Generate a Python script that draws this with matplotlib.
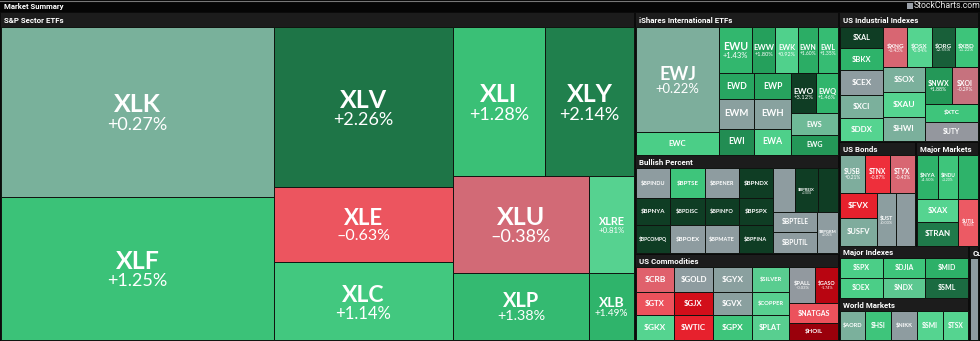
import matplotlib.pyplot as plt
import matplotlib.patches as patches
import numpy as np
from matplotlib.colors import to_rgb

# ---- data: tickers, % change, and nested size weights per panel ----
sp_tickers = ['XLK', 'XLF', 'XLV', 'XLE', 'XLC', 'XLI', 'XLY', 'XLU', 'XLRE', 'XLP', 'XLB']
sp_change = [0.27, 1.25, 2.26, -0.63, 1.14, 1.28, 2.14, -0.38, 0.81, 1.38, 1.49]
sp_sizes = ('h', [(273, ('v', [(170, 'XLK'), (143, 'XLF')])),
                  (179, ('v', [(160, 'XLV'), (75, 'XLE'), (78, 'XLC')])),
                  (181, ('v', [(149, ('h', [(92, 'XLI'), (89, 'XLY')])),
                               (164, ('h', [(136, ('v', [(97, 'XLU'), (67, 'XLP')])),
                                            (45, ('v', [(97, 'XLRE'), (67, 'XLB')]))]))]))])

intl_tickers = ['EWJ', 'EWC', 'EWU', 'EWW', 'EWK', 'EWN', 'EWL', 'EWD', 'EWP', 'EWM',
                'EWH', 'EWI', 'EWA', 'EWO', 'EWQ', 'EWS', 'EWG']
intl_change = [0.22, 1.0, 1.43, 1.80, 0.92, 1.60, 1.35, 1.70, 1.75, 0.05,
               0.08, 2.0, 0.95, 3.12, 1.46, 0.40, 1.90]
intl_sizes = ('h', [(83, ('v', [(105, 'EWJ'), (23, 'EWC')])),
                    (119, ('v', [(46, ('h', [(33, 'EWU'), (23, 'EWW'), (22, 'EWK'), (20, 'EWN'), (20, 'EWL')])),
                                 (82, ('h', [(72, ('v', [(26, ('h', [(35, 'EWD'), (37, 'EWP')])),
                                                         (29, ('h', [(35, 'EWM'), (37, 'EWH')])),
                                                         (26, ('h', [(35, 'EWI'), (37, 'EWA')]))])),
                                             (47, ('v', [(40, ('h', [(25, 'EWO'), (22, 'EWQ')])),
                                                         (21, 'EWS'), (20, 'EWG')]))]))]))])

ind_tickers = ['$XAL', '$BKX', '$CEX', '$XCI', '$DDX', '$XNG', '$OSX', '$ORG', '$XBD',
               '$SOX', '$XAU', '$HWI', '$NWX', '$XOI', '$XTC', '$UTY']
ind_change = [3.0, 1.5, 0.0, 0.25, 0.85, -0.43, 0.84, 2.55, 1.22,
              0.25, 0.85, 0.25, 1.88, -0.29, 1.2, -0.05]
ind_sizes = ('h', [(43, ('v', [(21, '$XAL'), (22, '$BKX'), (24, '$CEX'), (23, '$XCI'), (23, '$DDX')])),
                   (94, ('v', [(40, ('h', [(24, '$XNG'), (24, '$OSX'), (23, '$ORG'), (23, '$XBD')])),
                               (73, ('h', [(41, ('v', [(24, '$SOX'), (25, '$XAU'), (24, '$HWI')])),
                                           (53, ('v', [(36, ('h', [(27, '$NWX'), (26, '$XOI')])),
                                                       (18, '$XTC'), (19, '$UTY')]))]))]))])

bp_tickers = ['$BPINDU', '$BPTSE', '$BPENER', '$BPNDX', '$BPNYA', '$BPDISC', '$BPINFO', '$BPSPX',
              '$BPCOMPQ', '$BPOEX', '$BPMATE', '$BPFINA', '_a', '$BPREIX', '_b',
              '$BPTELE', '$BPUTIL', '$BPGRM']
bp_change = [0.0, 1.2, 0.0, 3.0, 3.0, 3.0, 3.0, 3.0,
             3.0, 0.0, 0.0, 3.0, 0.0, 3.0, 3.0,
             0.0, 0.0, 0.0]
bp_sizes = ('h', [(137, ('v', [(30, ('h', [(1, '$BPINDU'), (1, '$BPTSE'), (1, '$BPENER'), (1, '$BPNDX')])),
                               (27, ('h', [(1, '$BPNYA'), (1, '$BPDISC'), (1, '$BPINFO'), (1, '$BPSPX')])),
                               (28, ('h', [(1, '$BPCOMPQ'), (1, '$BPOEX'), (1, '$BPMATE'), (1, '$BPFINA')]))])),
                  (65, ('v', [(44, ('h', [(22, '_a'), (23, '$BPREIX'), (20, '_b')])),
                              (41, ('h', [(44, ('v', [(20, '$BPTELE'), (21, '$BPUTIL')])), (21, '$BPGRM')]))]))])

bond_tickers = ['$USB', '$TNX', '$TYX', '$FVX', '$USFV', '$UST', '_c']
bond_change = [0.21, -0.87, -0.43, -1.0, 0.2, 0.03, 0.0]
bond_sizes = ('v', [(38, ('h', [(25, '$USB'), (25, '$TNX'), (25, '$TYX')])),
                    (53, ('h', [(37, ('v', [(25, '$FVX'), (28, '$USFV')])), (19, '$UST'), (19, '_c')]))])

mkt_tickers = ['$NYA', '$INDU', '_d', '$XAX', '$TRAN', '$UTIL']
mkt_change = [1.5, 1.2, 1.5, 0.85, 2.2, -0.6]
mkt_sizes = ('v', [(44, ('h', [(21, '$NYA'), (20, '$INDU'), (20, '_d')])),
                   (47, ('h', [(41, ('v', [(23, '$XAX'), (24, '$TRAN')])), (20, '$UTIL')]))])

cmd_tickers = ['$CRB', '$GTX', '$GKX', '$GOLD', '$GJX', '$WTIC', '$GYX', '$GVX', '$GPX',
               '$SILVER', '$COPPER', '$PLAT', '$PALL', '$GASO', '$NATGAS', '$HOIL']
cmd_change = [-0.5, -0.65, 0.85, 0.0, -1.3, -1.0, 0.05, 0.05, 1.2,
              0.7, 0.75, 0.75, -0.03, -1.74, -0.65, -2.3]
cmd_sizes = ('h', [(38, ('v', [(25, '$CRB'), (23, '$GTX'), (25, '$GKX')])),
                   (39, ('v', [(25, '$GOLD'), (23, '$GJX'), (25, '$WTIC')])),
                   (39, ('v', [(25, '$GYX'), (23, '$GVX'), (25, '$GPX')])),
                   (37, ('v', [(25, '$SILVER'), (23, '$COPPER'), (25, '$PLAT')])),
                   (49, ('v', [(36, ('h', [(26, '$PALL'), (23, '$GASO')])), (20, '$NATGAS'), (17, '$HOIL')]))])

idx_tickers = ['$SPX', '$DJIA', '$MID', '$OEX', '$NDX', '$SML']
idx_change = [1.0, 1.2, 1.55, 1.0, 0.6, 2.4]
idx_sizes = ('v', [(1, ('h', [(1, '$SPX'), (1, '$DJIA'), (1, '$MID')])),
                   (1, ('h', [(1, '$OEX'), (1, '$NDX'), (1, '$SML')]))])

world_tickers = ['$AORD', '$HSI', '$NIKK', '$SMI', '$TSX']
world_change = [0.25, 1.2, 0.0, 0.85, 0.85]
world_sizes = ('h', [(25, '$AORD'), (26, '$HSI'), (25, '$NIKK'), (26, '$SMI'), (25, '$TSX')])

cur_tickers = ['_e']
cur_change = [0.0]
cur_sizes = ('v', [(1, '_e')])

# panel frames in pixels: title, x0, header top, tiles top, x1, y1, max font
panels = [
    ('S&P Sector ETFs', 1, 13, 27, 634, 340, 18, sp_tickers, sp_change, sp_sizes),
    ('iShares International ETFs', 636, 13, 27, 838, 155, 13, intl_tickers, intl_change, intl_sizes),
    ('US Industrial Indexes', 840, 13, 27, 978, 141, 13, ind_tickers, ind_change, ind_sizes),
    ('Bullish Percent', 636, 156, 168, 838, 253, 13, bp_tickers, bp_change, bp_sizes),
    ('US Bonds', 840, 143, 155, 915, 246, 13, bond_tickers, bond_change, bond_sizes),
    ('Major Markets', 917, 143, 155, 978, 246, 13, mkt_tickers, mkt_change, mkt_sizes),
    ('US Commodities', 636, 255, 267, 838, 340, 13, cmd_tickers, cmd_change, cmd_sizes),
    ('Major Indexes', 840, 247, 258, 968, 298, 13, idx_tickers, idx_change, idx_sizes),
    ('World Markets', 840, 299, 311, 968, 340, 13, world_tickers, world_change, world_sizes),
    ('Cu', 970, 247, 258, 978, 340, 13, cur_tickers, cur_change, cur_sizes),
]

# colour scale for % change
anchors = [(-3.0, '#7a0008'), (-2.0, '#a8000c'), (-1.2, '#d8101c'), (-0.9, '#ee2a36'),
           (-0.6, '#ec5a64'), (-0.3, '#c8707c'), (-0.1, '#9a929b'), (0.0, '#8e9ca0'),
           (0.25, '#7bb09c'), (0.6, '#5cc890'), (0.85, '#55d490'), (1.2, '#3ec57b'),
           (1.5, '#2eb36a'), (1.8, '#25a05c'), (2.2, '#1f7a4a'), (3.0, '#0f3d24')]
av = np.array([a[0] for a in anchors])
ac = np.array([to_rgb(a[1]) for a in anchors])


def change_color(v):
    return tuple(np.interp(v, av, ac[:, i]) for i in range(3))


def fmt_change(v):
    sign = '+' if v >= 0 else '\u2013'
    return '%s%.2f%%' % (sign, abs(v))


def split(node, x0, y0, x1, y1, out):
    if isinstance(node, str):
        out.append((node, x0, y0, x1, y1))
        return
    d, kids = node
    tot = sum(w for w, _ in kids)
    pos = x0 if d == 'h' else y0
    span = (x1 - x0) if d == 'h' else (y1 - y0)
    for w, k in kids:
        step = span * w / tot
        if d == 'h':
            split(k, pos, y0, pos + step, y1, out)
        else:
            split(k, x0, pos, x1, pos + step, out)
        pos += step


fig = plt.figure(figsize=(9.8, 3.41), dpi=100)
fig.patch.set_facecolor('#0b0b0b')
ax = fig.add_axes([0, 0, 1, 1])
ax.set_xlim(0, 980)
ax.set_ylim(341, 0)
ax.axis('off')

head_font = 'Roboto'
PX = 100 / 72.0

# top bar
ax.add_patch(patches.Rectangle((0, 0), 980, 12, facecolor='#050505', edgecolor='none'))
ax.plot([0, 980], [0.5, 0.5], color='#777777', lw=0.8)
ax.text(4, 6.5, 'Market Summary', color='white', fontsize=5.6, fontweight='bold',
        family=head_font, va='center', ha='left')
ax.add_patch(patches.Rectangle((907, 2.5), 6, 6, facecolor='#9aa0a8', edgecolor='none'))
ax.text(914, 6, 'StockCharts.com', color='#e8e8e8', fontsize=6.3, family='Roboto',
        va='center', ha='left')

for title, x0, hy, ty, x1, y1, fmax, tick, chg, sizes in panels:
    ax.add_patch(patches.Rectangle((x0, hy), x1 - x0, ty - hy, facecolor='#1c1c1c', edgecolor='none'))
    t = ax.text(x0 + 3, (hy + ty) / 2 + 0.5, title, color='white', fontsize=5.7, fontweight='bold',
                family=head_font, va='center', ha='left')
    t.set_clip_path(patches.Rectangle((x0, hy), x1 - x0, ty - hy, transform=ax.transData))
    lookup = dict(zip(tick, chg))
    tiles = []
    split(sizes, x0, ty, x1, y1, tiles)
    for name, a, b, c, d in tiles:
        v = lookup[name]
        ax.add_patch(patches.Rectangle((a, b), c - a, d - b, facecolor=change_color(v),
                                       edgecolor='#101410', linewidth=0.7))
        if name.startswith('_'):
            continue
        w, h = c - a, d - b
        s = min(w / len(name), h / 3.0)
        fs = min(fmax, 0.6 * s + 1)
        cx, cy = (a + c) / 2, (b + d) / 2
        if h >= 33:
            ax.text(cx, cy + 0.5, name, color='white', fontsize=fs, fontweight='bold',
                    family='Lato', ha='center', va='baseline')
            ax.text(cx, cy + 0.2 * fs * PX, fmt_change(v), color='white', fontsize=0.72 * fs,
                    family='Lato', ha='center', va='top')
        else:
            ax.text(cx, cy, name, color='white', fontsize=fs, fontweight='bold',
                    family='Lato', ha='center', va='center')

plt.savefig('out.png', dpi=100, facecolor=fig.get_facecolor())
